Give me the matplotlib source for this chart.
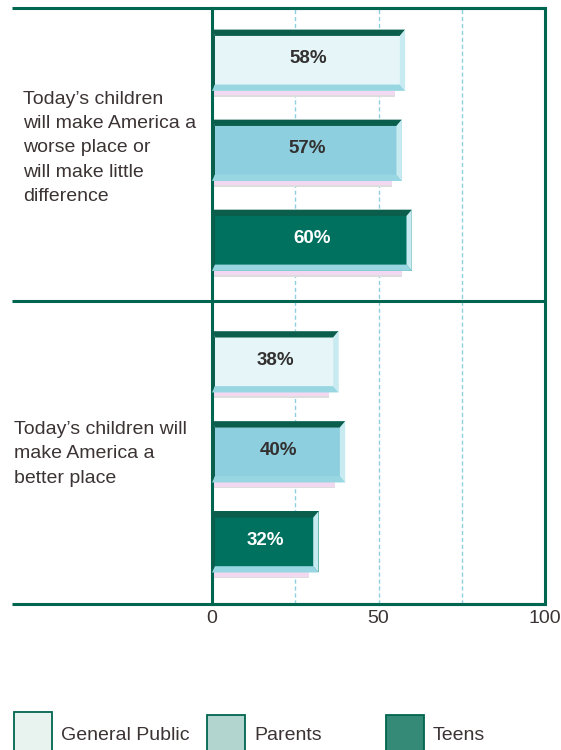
import matplotlib
matplotlib.use("Agg")
import matplotlib.pyplot as plt
from matplotlib.patches import Polygon, Rectangle

plt.rcParams['font.family'] = ['Liberation Sans', 'DejaVu Sans']

# ---- data ----
statements = [
    "Today\u2019s children\nwill make America a\nworse place or\nwill make little\ndifference",
    "Today\u2019s children will\nmake America a\nbetter place",
]
series = ["General Public", "Parents", "Teens"]
worse_or_same = [58, 57, 60]
better = [38, 40, 32]
values = [worse_or_same, better]
x_ticks = [0, 50, 100]
x_tick_labels = ["0", "50", "100"]

# ---- styling ----
face_colors = ["#E6F6F8", "#8ECFDF", "#00705F"]
legend_colors = ["#E8F3F0", "#B3D5CF", "#358A77"]
label_colors = ["#333030", "#333030", "#FFFFFF"]
dark = "#00664F"
text_col = "#3B3334"
grid_col = "#8FD0E0"

group_step = 3.35
bar_h = 0.68
dx_left, dx_right, dy = 0.9, 1.6, 0.07
y_top, y_bottom = -0.58, 6.04

fig = plt.figure(figsize=(5.61, 7.5), dpi=100)
ax = fig.add_axes([212 / 561, 1 - 604 / 750, 333 / 561, 596 / 750])
ax.set_xlim(0, 100)
ax.set_ylim(y_bottom, y_top)

for gx in (25, 50, 75):
    ax.axvline(gx, color=grid_col, lw=1.0, ls=(0, (3, 2)), zorder=0)

for g, vals in enumerate(values):
    for i, v in enumerate(vals):
        y = g * group_step + i
        top, bot = y - bar_h / 2, y + bar_h / 2
        # drop shadow under the bar
        ax.add_patch(Rectangle((0, bot), v - 3, 0.06, facecolor="#F3D8F1",
                               edgecolor="none", zorder=1))
        ax.add_patch(Rectangle((0, bot + 0.045), v - 3, 0.02, facecolor="#DDDDDD",
                               edgecolor="none", zorder=1))
        ax.barh(y, v, height=bar_h, color=face_colors[i], edgecolor="none", zorder=2)
        # bevelled frame: dark top/left, light bottom/right
        ax.add_patch(Polygon([(0, top), (v, top), (v - dx_right, top + dy), (dx_left, top + dy)],
                             closed=True, facecolor="#0B5E4C", edgecolor="none", zorder=3))
        ax.add_patch(Polygon([(0, top), (dx_left, top + dy), (dx_left, bot - dy), (0, bot)],
                             closed=True, facecolor="#0B5E4C", edgecolor="none", zorder=3))
        ax.add_patch(Polygon([(0, bot), (dx_left, bot - dy), (v - dx_right, bot - dy), (v, bot)],
                             closed=True, facecolor="#98D6E2", edgecolor="none", zorder=3))
        ax.add_patch(Polygon([(v, top), (v, bot), (v - dx_right, bot - dy), (v - dx_right, top + dy)],
                             closed=True, facecolor="#C8EBF2", edgecolor="none", zorder=3))
        ax.text(v / 2, y - 0.02, f"{v}%", ha="center", va="center", fontsize=13.5,
                fontweight="bold", color=label_colors[i], zorder=4)

# frame and section dividers
for sp in ("left", "right", "top", "bottom"):
    ax.spines[sp].set_color(dark)
    ax.spines[sp].set_linewidth(2.2)
ext = -200 / 333
divider = (len(values[0]) - 1 + group_step) / 2
for yline in (y_top, divider, y_bottom):
    ax.plot([ext, 1], [yline, yline], transform=ax.get_yaxis_transform(),
            color=dark, lw=2.2, clip_on=False, zorder=5, solid_capstyle="butt")

# statement labels
fig.text(23 / 561, 1 - 148 / 750, statements[0], ha="left", va="center",
         fontsize=14, color=text_col, linespacing=1.55)
fig.text(14 / 561, 1 - 454 / 750, statements[1], ha="left", va="center",
         fontsize=14, color=text_col, linespacing=1.55)

ax.set_yticks([])
ax.set_xticks(x_ticks)
ax.set_xticklabels(x_tick_labels, fontsize=14, color=text_col)
ax.tick_params(axis="x", length=0, pad=4)

# legend
box_x = [14, 207, 386]
box_top = [712, 715, 715]
for name, col, bx, bt in zip(series, legend_colors, box_x, box_top):
    fig.patches.append(Rectangle((bx / 561, 1 - (bt + 40) / 750), 38 / 561, 40 / 750,
                                 transform=fig.transFigure, facecolor=col,
                                 edgecolor=dark, lw=1.3))
    fig.text((bx + 47) / 561, 1 - 736 / 750, name, ha="left", va="center",
             fontsize=14, color=text_col)

fig.savefig("out.png", dpi=100)
